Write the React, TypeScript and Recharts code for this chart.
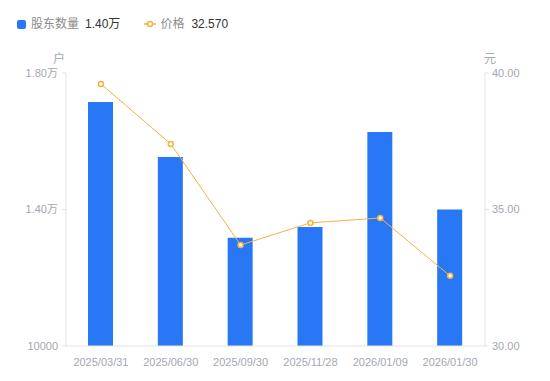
import { ComposedChart, Bar, Line, XAxis, YAxis } from 'recharts';

const dates = ['2025/03/31', '2025/06/30', '2025/09/30', '2025/11/28', '2026/01/09', '2026/01/30'];
const holders = [17150, 15540, 13170, 13490, 16270, 14000];
const prices = [39.6, 37.4, 33.7, 34.51, 34.69, 32.57];
const leftTicks = [10000, 14000, 18000];
const rightTicks = [30, 35, 40];

const BLUE = '#2878f5';
const ORANGE = '#f8b13e';
const TICK = '#a3a7b3';
const AXIS = '#e3e3e3';
const FONT = '"Liberation Sans", Arial, "Noto Sans CJK SC", sans-serif';

const data = dates.map((d, i) => ({ date: d, holders: holders[i], price: prices[i] }));

const fmtLeft = (v: number) => (v === 10000 ? '10000' : (v / 10000).toFixed(2) + '万');

export default function App() {
  return (
    <div style={{ position: 'absolute', left: 0, top: 0, width: 550, height: 381, fontFamily: FONT, background: '#fff' }}>
      <div style={{ position: 'absolute', left: 17, top: 16, display: 'flex', alignItems: 'center', fontSize: 12, lineHeight: '16px' }}>
        <span style={{ width: 9, height: 9, borderRadius: 2, background: BLUE, display: 'inline-block' }} />
        <span style={{ color: '#8c8c8c', marginLeft: 5 }}>股东数量</span>
        <span style={{ color: '#333', marginLeft: 6 }}>1.40万</span>
        <svg width={12} height={10} style={{ marginLeft: 24 }}>
          <line x1={0} y1={5} x2={12} y2={5} stroke={ORANGE} strokeWidth={1.5} />
          <circle cx={6} cy={5} r={2.5} fill="#fff" stroke={ORANGE} strokeWidth={1.5} />
        </svg>
        <span style={{ color: '#8c8c8c', marginLeft: 4 }}>价格</span>
        <span style={{ color: '#333', marginLeft: 7 }}>32.570</span>
      </div>
      <div style={{ position: 'absolute', left: 53, top: 49, fontSize: 12, color: TICK }}>户</div>
      <div style={{ position: 'absolute', left: 484, top: 49, fontSize: 12, color: TICK }}>元</div>
      <ComposedChart width={550} height={381} data={data} margin={{ top: 73, right: 0, bottom: 0, left: 0 }}>
        <XAxis
          dataKey="date"
          height={35}
          tickLine={false}
          axisLine={{ stroke: AXIS }}
          tick={{ fill: TICK, fontSize: 11, fontFamily: FONT }}
          tickMargin={6}
          interval={0}
        />
        <YAxis
          yAxisId="left"
          width={66}
          domain={[10000, 18000]}
          ticks={leftTicks}
          tickFormatter={fmtLeft}
          axisLine={{ stroke: AXIS }}
          tickLine={{ stroke: AXIS }}
          tickSize={4}
          tickMargin={4}
          tick={{ fill: TICK, fontSize: 11, fontFamily: FONT }}
        />
        <YAxis
          yAxisId="right"
          orientation="right"
          width={65}
          domain={[30, 40]}
          ticks={rightTicks}
          tickFormatter={(v: number) => v.toFixed(2)}
          axisLine={{ stroke: AXIS }}
          tickLine={{ stroke: AXIS }}
          tickSize={4}
          tickMargin={3}
          tick={{ fill: TICK, fontSize: 11, fontFamily: FONT }}
        />
        <Bar yAxisId="left" dataKey="holders" fill={BLUE} barSize={25} isAnimationActive={false} />
        <Line
          yAxisId="right"
          dataKey="price"
          type="linear"
          stroke={ORANGE}
          strokeWidth={1}
          dot={{ r: 2.5, fill: '#fff', stroke: ORANGE, strokeWidth: 1.5 }}
          isAnimationActive={false}
        />
      </ComposedChart>
    </div>
  );
}
